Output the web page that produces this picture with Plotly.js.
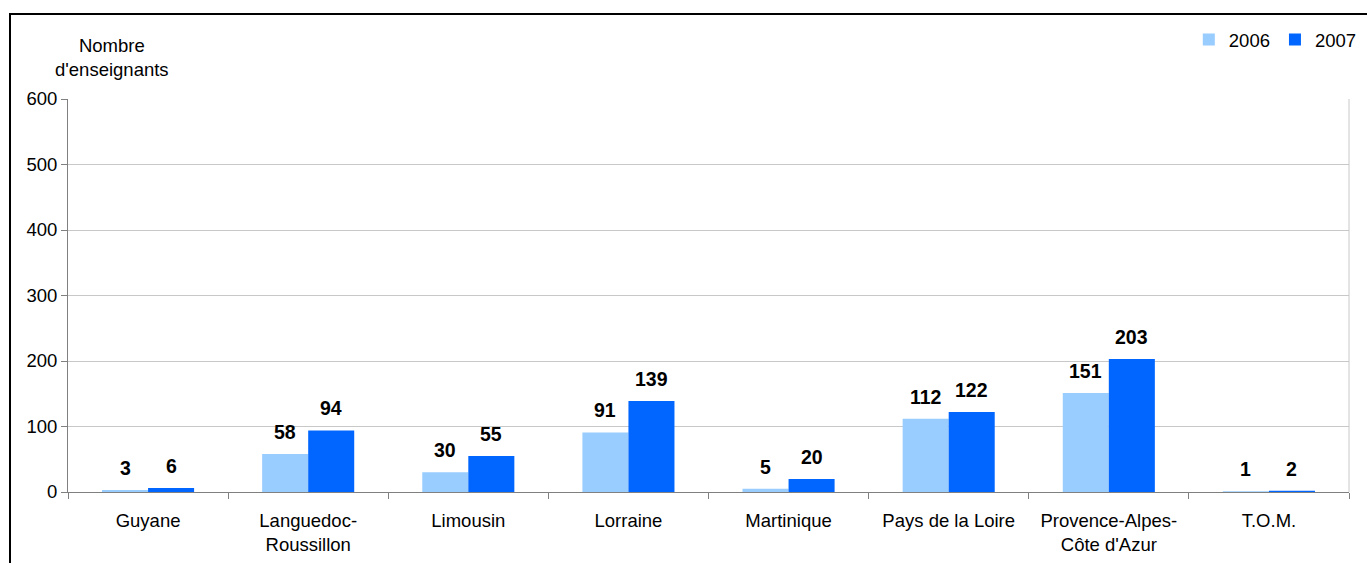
<!DOCTYPE html>
<html><head><meta charset="utf-8">
<script src="https://cdn.plot.ly/plotly-3.0.1.min.js"></script>
<style>
html,body{margin:0;padding:0;background:#fff;}
#frame{position:absolute;left:9px;top:13px;width:1400px;height:600px;border-top:2px solid #000;border-left:2px solid #000;pointer-events:none;z-index:5;}
#chart{width:1367px;height:563px;}
</style></head>
<body>
<div id="chart"></div>
<div id="frame"></div>
<script>
const categories = ["Guyane","Languedoc-<br>Roussillon","Limousin","Lorraine","Martinique","Pays de la Loire","Provence-Alpes-<br>Côte d'Azur","T.O.M."];
const values2006 = [3,58,30,91,5,112,151,1];
const values2007 = [6,94,55,139,20,122,203,2];
const seriesNames = ["2006","2007"];
const yTicks = [0,100,200,300,400,500,600];

const colors = ["#99CCFF","#0066FF"];
const FONT = "Liberation Sans, Arial, sans-serif";
const traces = [values2006, values2007].map((v,i)=>({
  type:"bar", x:categories, y:v, name:seriesNames[i],
  marker:{color:colors[i], line:{width:0}}, hoverinfo:"none"
}));

const annotations = [];
[values2006, values2007].forEach((vals,i)=>{
  vals.forEach((v,j)=>{
    annotations.push({x:categories[j], y:v, xref:"x", yref:"y", text:"<b>"+v+"</b>",
      showarrow:false, xshift:(i===0?-23:23), yshift:9, yanchor:"bottom",
      font:{family:FONT, size:19.5, color:"#000"}});
  });
});
annotations.push({xref:"paper", yref:"paper", x:0.034, y:1.105, xanchor:"center", yanchor:"middle",
  text:"Nombre<br>d'enseignants", showarrow:false, align:"center",
  font:{family:FONT, size:18.5, color:"#000"}});

const layout = {
  width:1367, height:563,
  margin:{l:68, r:18, t:99, b:71, autoexpand:false},
  paper_bgcolor:"#fff", plot_bgcolor:"#fff",
  barmode:"group", bargap:0.425, bargroupgap:0,
  font:{family:FONT, size:18.5, color:"#000"},
  showlegend:true,
  legend:{orientation:"h", x:1.01, xanchor:"right", y:1.15, yanchor:"middle",
    font:{family:FONT, size:18.5}, itemwidth:30, traceorder:"normal", bgcolor:"rgba(0,0,0,0)"},
  xaxis:{type:"category", showline:true, linecolor:"#808080", linewidth:1,
    ticks:"outside", tickson:"boundaries", ticklen:6, tickcolor:"#808080",
    showgrid:false, tickfont:{family:FONT, size:18.5}, ticklabelstandoff:12, automargin:false},
  yaxis:{range:[0,600], tickvals:yTicks, showline:true, linecolor:"#808080", linewidth:1,
    ticks:"outside", ticklen:6, tickcolor:"#808080", showgrid:true, gridcolor:"#C8C8C8",
    zeroline:false, tickfont:{family:FONT, size:18.5}, automargin:false},
  annotations:annotations,
  shapes:[{type:"line", xref:"paper", yref:"paper", x0:1, x1:1, y0:0, y1:1, line:{color:"#C8C8C8", width:1}}]
};
Plotly.newPlot("chart", traces, layout, {displayModeBar:false, staticPlot:true});
</script>
</body></html>
